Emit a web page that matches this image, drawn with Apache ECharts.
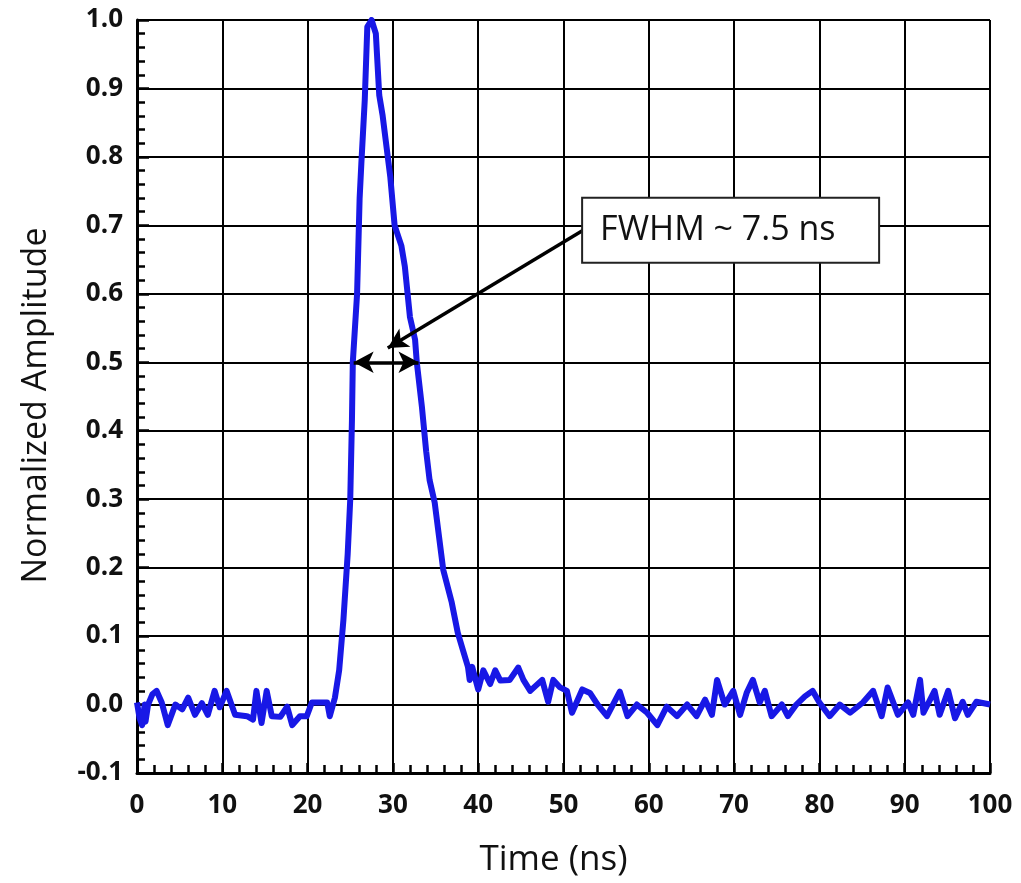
<!DOCTYPE html>
<html>
<head>
<meta charset="utf-8">
<script src="https://cdn.jsdelivr.net/npm/echarts@6/dist/echarts.min.js"></script>
<style>
html,body{margin:0;padding:0;background:#fff;}
#chart{width:1021px;height:883px;}
</style>
</head>
<body>
<div id="chart"></div>
<script>
var timeNs = [0, 0.3, 0.6, 0.9, 1.0, 1.3, 1.8, 2.3, 2.9, 3.6, 4.5, 5.3, 6.0, 6.8, 7.6, 8.3, 9.1, 9.7, 10.5, 11.5, 12.9, 13.6, 14.0, 14.6, 15.2, 15.8, 16.8, 17.6, 18.2, 19.1, 19.9, 20.5, 22.3, 22.6, 23.2,
  23.7, 24.2, 24.7, 25.0, 25.2, 25.3, 25.8, 26.1, 26.3, 26.7, 27.0, 27.5, 28.0, 28.4, 28.8, 29.0, 29.7, 30.2, 31.0, 31.4, 32.0, 32.6, 32.8, 33.4, 33.9, 34.3, 34.9, 35.9, 36.9, 37.6, 38.2, 38.8,
  39.0, 39.3, 40.0, 40.6, 41.4, 42.0, 42.6, 43.7, 44.7, 45.3, 46.1, 47.5, 48.2, 48.8, 49.6, 50.4, 51.0, 52.2, 53.1, 54.0, 55.1, 56.6, 57.5, 58.6, 59.8, 61.0, 62.1, 63.3, 64.5, 65.6, 66.6, 67.4,
  68.0, 68.9, 69.9, 70.7, 71.5, 72.2, 73.0, 73.6, 74.4, 75.6, 76.3, 77.3, 78.3, 79.2, 80.0, 81.2, 82.4, 83.6, 85.1, 86.3, 87.3, 88.0, 89.2, 90.4, 91.0, 91.8, 92.2, 93.5, 94.1, 95.1, 95.9, 96.8, 97.4, 98.4, 100];
var amplitude = [0.003, -0.02, -0.03, 0.0, -0.025, 0.0, 0.015, 0.02, 0.003, -0.03, 0.0, -0.007, 0.01, -0.015, 0.002, -0.015, 0.02, -0.004, 0.02, -0.015, -0.017, -0.022, 0.02, -0.027, 0.02, -0.017, -0.018, -0.003, -0.03, -0.017, -0.017, 0.003, 0.003, -0.017, 0.01,
  0.05, 0.124, 0.22, 0.30, 0.416, 0.5, 0.60, 0.74, 0.79, 0.883, 0.99, 1.0, 0.98, 0.89, 0.86, 0.84, 0.77, 0.70, 0.67, 0.64, 0.566, 0.533, 0.5, 0.435, 0.37, 0.328, 0.295, 0.197, 0.149, 0.105, 0.08, 0.055,
  0.036, 0.055, 0.022, 0.05, 0.03, 0.05, 0.035, 0.036, 0.054, 0.036, 0.02, 0.036, 0.004, 0.036, 0.025, 0.02, -0.012, 0.022, 0.017, 0.0, -0.017, 0.019, -0.017, 0.0, -0.012, -0.03, -0.003, -0.017, 0.0, -0.017, 0.007, -0.015,
  0.036, 0.0, 0.02, -0.015, 0.018, 0.036, 0.003, 0.02, -0.017, 0.0, -0.017, 0.0, 0.012, 0.02, 0.003, -0.017, 0.0, -0.012, 0.003, 0.02, -0.017, 0.025, -0.015, 0.003, -0.015, 0.036, -0.012, 0.02, -0.015, 0.02, -0.02, 0.004, -0.015, 0.004, 0.0];

var xTicks = [0, 10, 20, 30, 40, 50, 60, 70, 80, 90, 100];
var yTicks = [-0.1, 0.0, 0.1, 0.2, 0.3, 0.4, 0.5, 0.6, 0.7, 0.8, 0.9, 1.0];
var fwhmText = 'FWHM ~ 7.5 ns';
var fwhmLeft = [25.4, 0.5], fwhmRight = [33.0, 0.5];
var arrowStart = [52.3, 0.693], arrowEnd = [29.4, 0.521];

var seriesData = timeNs.map(function (t, i) { return [t, amplitude[i]]; });

var chart = echarts.init(document.getElementById('chart'), null, {renderer: 'canvas'});
var fontTick = {fontFamily: 'Open Sans', fontWeight: 'bold', fontSize: 26, color: '#111'};
chart.setOption({
  animation: false,
  backgroundColor: '#fff',
  grid: {left: 137, right: 31, top: 20, bottom: 110},
  xAxis: {
    type: 'value', min: xTicks[0], max: xTicks[xTicks.length - 1], interval: 10,
    name: 'Time (ns)', nameLocation: 'middle', nameGap: 70,
    nameTextStyle: {fontFamily: 'Open Sans', fontSize: 35, color: '#111', padding: [0, 20, 0, 0]},
    axisLine: {show: true, onZero: false, lineStyle: {color: '#000', width: 3}},
    axisTick: {show: true, inside: true, length: 10, lineStyle: {color: '#000', width: 2.5}},
    minorTick: {show: true, splitNumber: 5, length: 8, lineStyle: {color: '#000', width: 2.5}},
    splitLine: {show: true, lineStyle: {color: '#000', width: 2}},
    axisLabel: Object.assign({margin: 20}, fontTick)
  },
  yAxis: {
    type: 'value', min: yTicks[0], max: yTicks[yTicks.length - 1], interval: 0.1,
    name: 'Normalized Amplitude', nameLocation: 'middle', nameGap: 84, nameRotate: 90,
    nameTextStyle: {fontFamily: 'Open Sans', fontSize: 34, color: '#111', padding: [0, 18, 0, 0]},
    axisLine: {show: true, onZero: false, lineStyle: {color: '#000', width: 3}},
    axisTick: {show: true, inside: true, length: 12, lineStyle: {color: '#000', width: 2.5}},
    minorTick: {show: true, splitNumber: 5, length: 8, lineStyle: {color: '#000', width: 2.5}},
    splitLine: {show: true, lineStyle: {color: '#000', width: 2}},
    axisLabel: Object.assign({margin: 14, formatter: function (v) { return v.toFixed(1); }}, fontTick)
  },
  series: [{
    type: 'line',
    data: seriesData,
    showSymbol: false,
    symbol: 'none',
    lineStyle: {color: '#1818e6', width: 6, join: 'round'},
    z: 3,
    markLine: {
      silent: true,
      animation: false,
      symbolSize: [16, 20],
      label: {show: false},
      lineStyle: {color: '#000', width: 3.5, type: 'solid'},
      data: [
        [{coord: fwhmLeft, symbol: 'arrow'}, {coord: fwhmRight, symbol: 'arrow'}],
        [{coord: arrowStart, symbol: 'none'}, {coord: arrowEnd, symbol: 'arrow'}]
      ]
    },
    markPoint: {
      silent: true,
      animation: false,
      data: [{
        coord: arrowStart,
        symbol: 'circle',
        symbolSize: 1,
        itemStyle: {color: 'rgba(0,0,0,0)'},
        label: {
          show: true, position: 'inside', formatter: fwhmText,
          fontFamily: 'Open Sans', fontSize: 34, color: '#111',
          backgroundColor: '#fff', borderColor: '#222', borderWidth: 2,
          width: 278, height: 35, lineHeight: 35, align: 'left', verticalAlign: 'middle',
          padding: [14, 0, 14, 17]
        }
      }]
    }
  }]
});
</script>
</body>
</html>
